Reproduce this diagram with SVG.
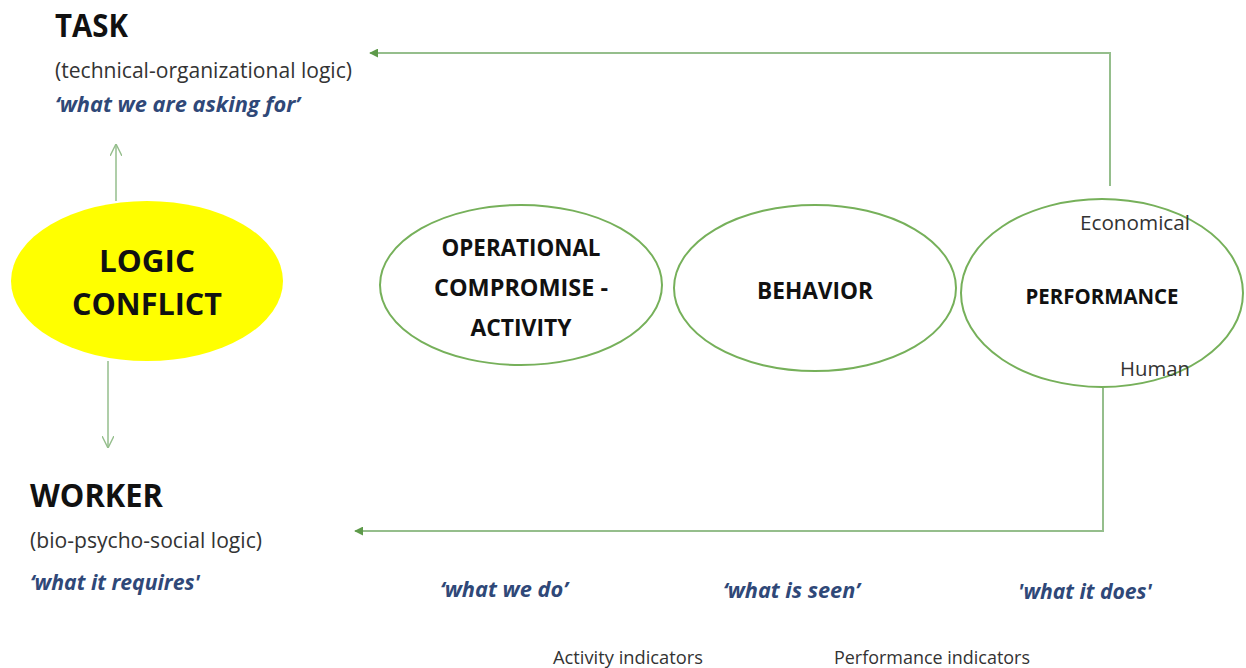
<svg xmlns="http://www.w3.org/2000/svg" width="1246" height="668" viewBox="0 0 1246 668">
<defs>
<style>
.t{font-family:"Open Sans","Liberation Sans",sans-serif;}
.h{font-weight:bold;font-size:33px;fill:#111;}
.sub{font-size:21px;fill:#333;}
.q{font-weight:bold;font-style:italic;font-size:21px;fill:#2F4878;}
.nl{font-weight:bold;font-size:23px;fill:#111;text-anchor:middle;}
.sm{font-size:20px;fill:#333;}
.ring{fill:#fff;stroke:#76B05A;stroke-width:2;}
.ln{fill:none;stroke:#95BE8C;stroke-width:2;}
.thin{fill:none;stroke:#95BE8C;stroke-width:1.5;}
</style>
<marker id="tri" viewBox="0 0 10 10" refX="9" refY="5" markerWidth="9" markerHeight="9" orient="auto" markerUnits="userSpaceOnUse">
<path d="M0,0 L10,5 L0,10 Z" fill="#5E9A4A"/>
</marker>
<marker id="open" viewBox="0 0 10 10" refX="10" refY="5" markerWidth="12" markerHeight="12" orient="auto" markerUnits="userSpaceOnUse">
<path d="M0,0 L10,5 L0,10" fill="none" stroke="#95BE8C" stroke-width="1.2"/>
</marker>
</defs>
<rect width="1246" height="668" fill="#fff"/>
<g id="connectors">
<path class="ln" d="M1110,186 V53 H370" marker-end="url(#tri)"/>
<path class="ln" d="M1103,388 V531 H355" marker-end="url(#tri)"/>
<line class="thin" x1="116" y1="201" x2="116" y2="144" marker-end="url(#open)"/>
<line class="thin" x1="108" y1="361" x2="108" y2="448" marker-end="url(#open)"/>
</g>
<g id="task">
<text class="t h" x="55" y="37" textLength="73" lengthAdjust="spacingAndGlyphs">TASK</text>
<text class="t sub" x="55" y="78" textLength="297" lengthAdjust="spacingAndGlyphs">(technical-organizational logic)</text>
<text class="t q" x="55" y="112" textLength="245" lengthAdjust="spacingAndGlyphs">‘what we are asking for’</text>
</g>
<g id="logic-conflict">
<ellipse cx="147" cy="281" rx="136" ry="80" fill="#FFFF00"/>
<text class="t nl" x="147" y="272" style="font-size:30px" textLength="96" lengthAdjust="spacingAndGlyphs">LOGIC</text>
<text class="t nl" x="147" y="315" style="font-size:30px" textLength="150" lengthAdjust="spacingAndGlyphs">CONFLICT</text>
</g>
<g id="worker">
<text class="t h" x="30" y="507" textLength="133" lengthAdjust="spacingAndGlyphs">WORKER</text>
<text class="t sub" x="30" y="548" textLength="232" lengthAdjust="spacingAndGlyphs">(bio-psycho-social logic)</text>
<text class="t q" x="30" y="590" textLength="170" lengthAdjust="spacingAndGlyphs">‘what it requires'</text>
</g>
<g id="activity">
<ellipse class="ring" cx="521" cy="285" rx="141" ry="80"/>
<text class="t nl" x="521" y="256" textLength="159" lengthAdjust="spacingAndGlyphs">OPERATIONAL</text>
<text class="t nl" x="521" y="296" textLength="174" lengthAdjust="spacingAndGlyphs">COMPROMISE -</text>
<text class="t nl" x="521" y="336" textLength="101" lengthAdjust="spacingAndGlyphs">ACTIVITY</text>
</g>
<g id="behavior">
<ellipse class="ring" cx="815" cy="288" rx="141" ry="83"/>
<text class="t nl" x="815" y="299" textLength="116" lengthAdjust="spacingAndGlyphs">BEHAVIOR</text>
</g>
<g id="performance">
<ellipse class="ring" cx="1102" cy="293" rx="141" ry="94"/>
<text class="t nl" x="1102" y="304" style="font-size:22px" textLength="153" lengthAdjust="spacingAndGlyphs">PERFORMANCE</text>
<text class="t sm" x="1080" y="230" textLength="110" lengthAdjust="spacingAndGlyphs">Economical</text>
<text class="t sm" x="1120" y="376" textLength="70" lengthAdjust="spacingAndGlyphs">Human</text>
</g>
<g id="labels">
<text class="t q" x="440" y="597" textLength="128" lengthAdjust="spacingAndGlyphs">‘what we do’</text>
<text class="t q" x="723" y="598" textLength="137" lengthAdjust="spacingAndGlyphs">‘what is seen’</text>
<text class="t q" x="1018" y="599" textLength="134" lengthAdjust="spacingAndGlyphs">'what it does'</text>
<text class="t sm" x="553" y="664" style="font-size:19px" textLength="150" lengthAdjust="spacingAndGlyphs">Activity indicators</text>
<text class="t sm" x="834" y="664" style="font-size:19px" textLength="196" lengthAdjust="spacingAndGlyphs">Performance indicators</text>
</g>
</svg>
